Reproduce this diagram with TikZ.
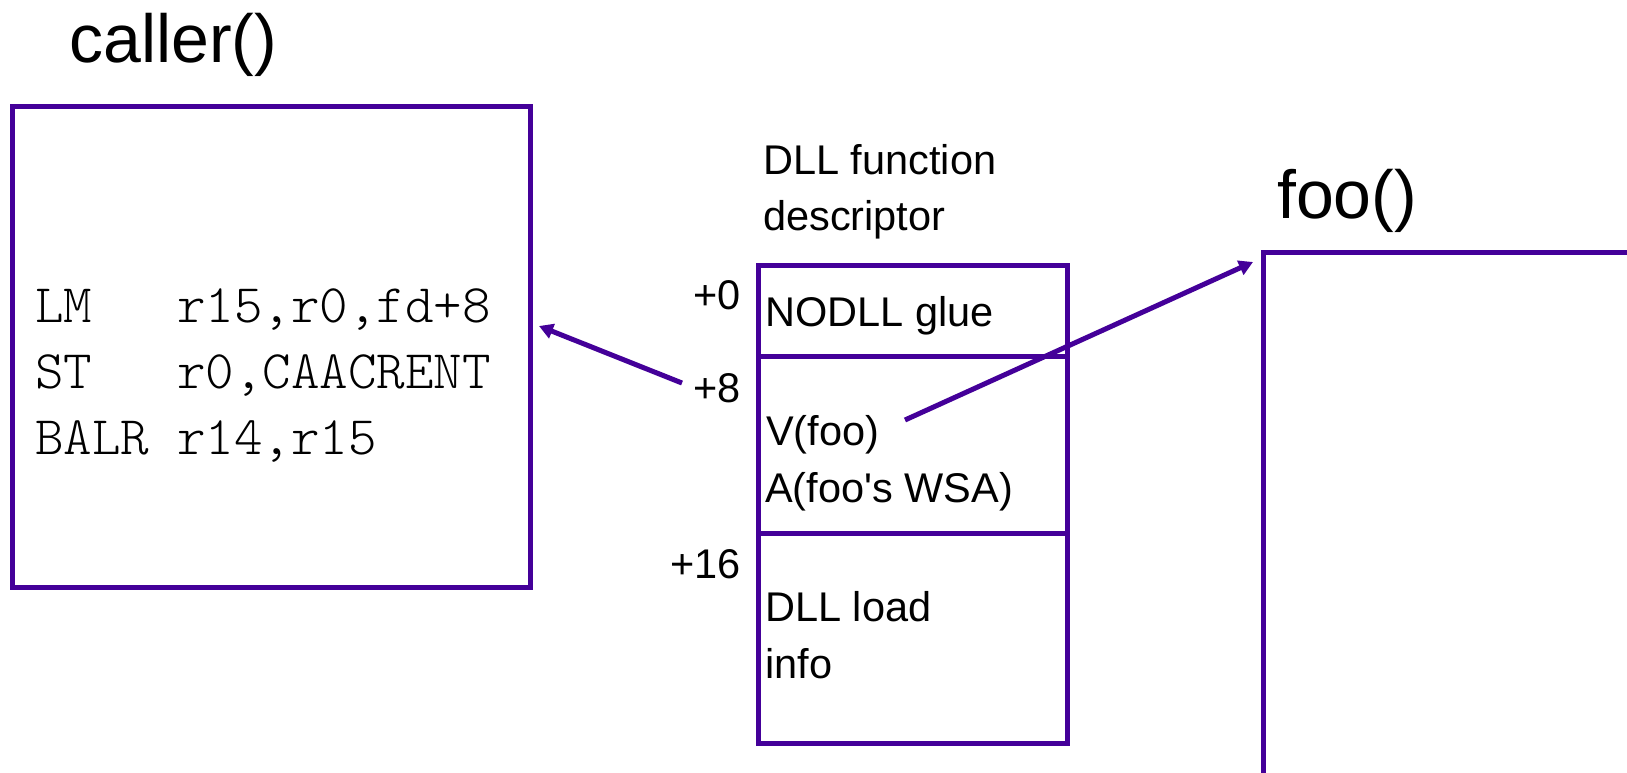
\documentclass[tikz,border=0pt]{standalone}
\usepackage{fontspec}
\setmainfont{Liberation Sans}
\usetikzlibrary{arrows.meta}
\definecolor{boxc}{RGB}{68,0,153}
\tikzset{
  boxline/.style={draw=boxc, line width=5pt},
  conn/.style={draw=boxc, line width=5pt, -{Triangle[length=14pt,width=15pt]}},
  titletext/.style={anchor=base west, inner sep=0pt, font=\fontsize{68}{80}\selectfont},
  bodytext/.style={anchor=base west, inner sep=0pt, font=\fontsize{41.5}{50}\selectfont},
  offtext/.style={anchor=base east, inner sep=0pt, font=\fontsize{41.5}{50}\selectfont},
  codetext/.style={anchor=base west, inner sep=0pt, font=\ttfamily\fontseries{l}\fontsize{54.3}{64}\selectfont},
}
\begin{document}
\begin{tikzpicture}[x=1pt,y=-1pt]
\useasboundingbox (0,0) rectangle (1627,772);
\fill[white] (0,0) rectangle (1627,772);
\clip (0,0) rectangle (1627,772);
% titles
\node[titletext] (callertitle) at (69,62) {caller()};
\node[titletext] (footitle) at (1277,218) {foo()};
% caller box
\draw[boxline] (12.5,106.5) rectangle (530,587.5);
\coordinate (callerin) at (539,326);
\node[codetext] (op1) at (35,322) {LM};
\node[codetext] (op2) at (35,388) {ST};
\node[codetext] (op3) at (35,454) {BALR};
\node[codetext] (arg1) at (177,322) {r15,r0,fd+8};
\node[codetext] (arg2) at (177,388) {r0,CAACRENT};
\node[codetext] (arg3) at (177,454) {r14,r15};
% descriptor
\node[bodytext] (desc1) at (763,174) {DLL function};
\node[bodytext] (desc2) at (763,230) {descriptor};
\draw[boxline] (758.5,265.5) rectangle (1067.5,743.5);
\draw[boxline] (758.5,356.5) -- (1067.5,356.5);
\draw[boxline] (758.5,533.5) -- (1067.5,533.5);
\node[offtext] (off0) at (741,309) {+0};
\node[offtext] (off8) at (741,402) {+8};
\node[offtext] (off16) at (741,578) {+16};
\node[bodytext] (glue) at (765,326) {NODLL glue};
\node[bodytext] (vfoo) at (766,445) {V(foo)};
\node[bodytext] (afoo) at (765,502) {A(foo\textquotesingle s WSA)};
\node[bodytext] (load1) at (765,621) {DLL load};
\node[bodytext] (load2) at (765,678) {info};
% foo box
\draw[boxline] (1263,900) -- (1263,252.5) -- (1800,252.5);
\coordinate (fooin) at (1253,262);
% connectors
\coordinate (fdstart) at (682,383);
\coordinate (vfooend) at (905,420);
\draw[conn] (fdstart) -- (callerin);
\draw[conn] (vfooend) -- (fooin);
\end{tikzpicture}
\end{document}
